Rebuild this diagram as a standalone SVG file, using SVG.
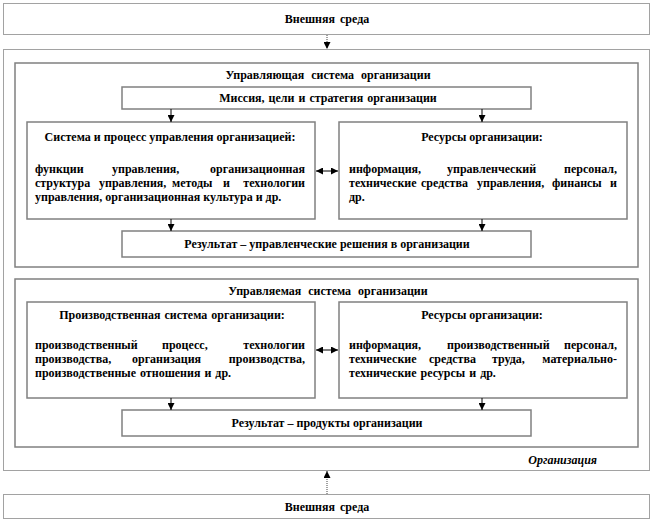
<svg xmlns="http://www.w3.org/2000/svg" width="654" height="522" viewBox="0 0 654 522">
<defs>
<marker id="ah" viewBox="0 0 10 10" refX="10" refY="5" markerWidth="7" markerHeight="7" markerUnits="userSpaceOnUse" orient="auto-start-reverse">
<path d="M0,0 L10,5 L0,10 z" fill="#000"/>
</marker>
<style>
.dot{fill:#fff;stroke:#444;stroke-width:1;stroke-dasharray:1,1}
.box{fill:#fff;stroke:#808080;stroke-width:1.5}
text{font-family:"Liberation Serif","Times New Roman",serif;font-size:12px;font-weight:bold;fill:#000}
.c{text-anchor:middle}
.e{text-anchor:end}
.it{font-style:italic}
.con{stroke:#000;stroke-width:1;fill:none}
.dcon{stroke:#444;stroke-width:1;stroke-dasharray:1,1;fill:none}
</style>
</defs>
<rect width="654" height="522" fill="#fff"/>

<g id="env-top">
<rect class="dot" x="3.5" y="3.5" width="646" height="31"/>
<text class="c" x="327" y="23" word-spacing="2">Внешняя среда</text>
</g>

<g id="organization">
<rect class="dot" x="3.5" y="49.5" width="646" height="421"/>
<text class="e it" x="597" y="464">Организация</text>
</g>

<g id="managing-system">
<rect class="box" x="15" y="63" width="623" height="204"/>
<text class="c" x="328" y="79" word-spacing="4">Управляющая система организации</text>
</g>

<g id="mission">
<rect class="box" x="122" y="87" width="409" height="22"/>
<text class="c" x="328" y="102" word-spacing="1">Миссия, цели и стратегия организации</text>
</g>

<g id="mgmt-process">
<rect class="box" x="27" y="122" width="288" height="97"/>
<text class="c" x="170" y="141">Система и процесс управления организацией:</text>
<text x="35" y="173">функции</text><text x="112" y="173">управления,</text><text class="e" x="305" y="173">организационная</text>
<text x="35" y="187">структура</text><text x="99" y="187">управления,</text><text x="172" y="187">методы</text><text x="223" y="187">и</text><text class="e" x="305" y="187">технологии</text>
<text x="35" y="201">управления, организационная культура и др.</text>
</g>

<g id="mgmt-resources">
<rect class="box" x="339" y="122" width="288" height="97"/>
<text class="c" x="482" y="141">Ресурсы организации:</text>
<text x="349" y="173">информация,</text><text x="447" y="173">управленческий</text><text class="e" x="617" y="173">персонал,</text>
<text x="349" y="187">технические</text><text x="421" y="187">средства</text><text x="477" y="187">управления,</text><text x="552" y="187">финансы</text><text class="e" x="617" y="187">и</text>
<text x="349" y="201">др.</text>
</g>

<g id="mgmt-result">
<rect class="box" x="122" y="231" width="409" height="26"/>
<text class="c" x="327" y="248">Результат – управленческие решения в организации</text>
</g>

<g id="managed-system">
<rect class="box" x="15" y="279" width="623" height="168"/>
<text class="c" x="328" y="295" word-spacing="4">Управляемая система организации</text>
</g>

<g id="production">
<rect class="box" x="27" y="302" width="288" height="96"/>
<text class="c" x="172" y="319" word-spacing="1">Производственная система организации:</text>
<text x="35" y="349">производственный</text><text x="162" y="349">процесс,</text><text class="e" x="305" y="349">технологии</text>
<text x="35" y="363">производства,</text><text x="132" y="363">организация</text><text class="e" x="305" y="363">производства,</text>
<text x="35" y="377" word-spacing="1">производственные отношения и др.</text>
</g>

<g id="prod-resources">
<rect class="box" x="339" y="302" width="288" height="96"/>
<text class="c" x="482" y="319">Ресурсы организации:</text>
<text x="349" y="349">информация,</text><text x="447" y="349">производственный</text><text class="e" x="617" y="349">персонал,</text>
<text x="349" y="363">технические</text><text x="429" y="363">средства</text><text x="492" y="363">труда,</text><text class="e" x="617" y="363">материально-</text>
<text x="349" y="377" word-spacing="1">технические ресурсы и др.</text>
</g>

<g id="prod-result">
<rect class="box" x="122" y="410" width="409" height="26"/>
<text class="c" x="327" y="427">Результат – продукты организации</text>
</g>

<g id="env-bottom">
<rect class="dot" x="3.5" y="494.5" width="646" height="24"/>
<text class="c" x="327" y="511" word-spacing="2">Внешняя среда</text>
</g>

<g id="connectors">
<line class="dcon" x1="327" y1="35" x2="327" y2="49" marker-end="url(#ah)"/>
<line class="dcon" x1="327" y1="494" x2="327" y2="471" marker-end="url(#ah)"/>
<line class="con" x1="171" y1="109" x2="171" y2="122" marker-end="url(#ah)"/>
<line class="con" x1="482" y1="109" x2="482" y2="122" marker-end="url(#ah)"/>
<line class="con" x1="316" y1="171" x2="338" y2="171" marker-start="url(#ah)" marker-end="url(#ah)"/>
<line class="con" x1="171" y1="219" x2="171" y2="231" marker-end="url(#ah)"/>
<line class="con" x1="482" y1="219" x2="482" y2="231" marker-end="url(#ah)"/>
<line class="con" x1="316" y1="350" x2="338" y2="350" marker-start="url(#ah)" marker-end="url(#ah)"/>
<line class="con" x1="171" y1="398" x2="171" y2="410" marker-end="url(#ah)"/>
<line class="con" x1="482" y1="398" x2="482" y2="410" marker-end="url(#ah)"/>
</g>
</svg>
